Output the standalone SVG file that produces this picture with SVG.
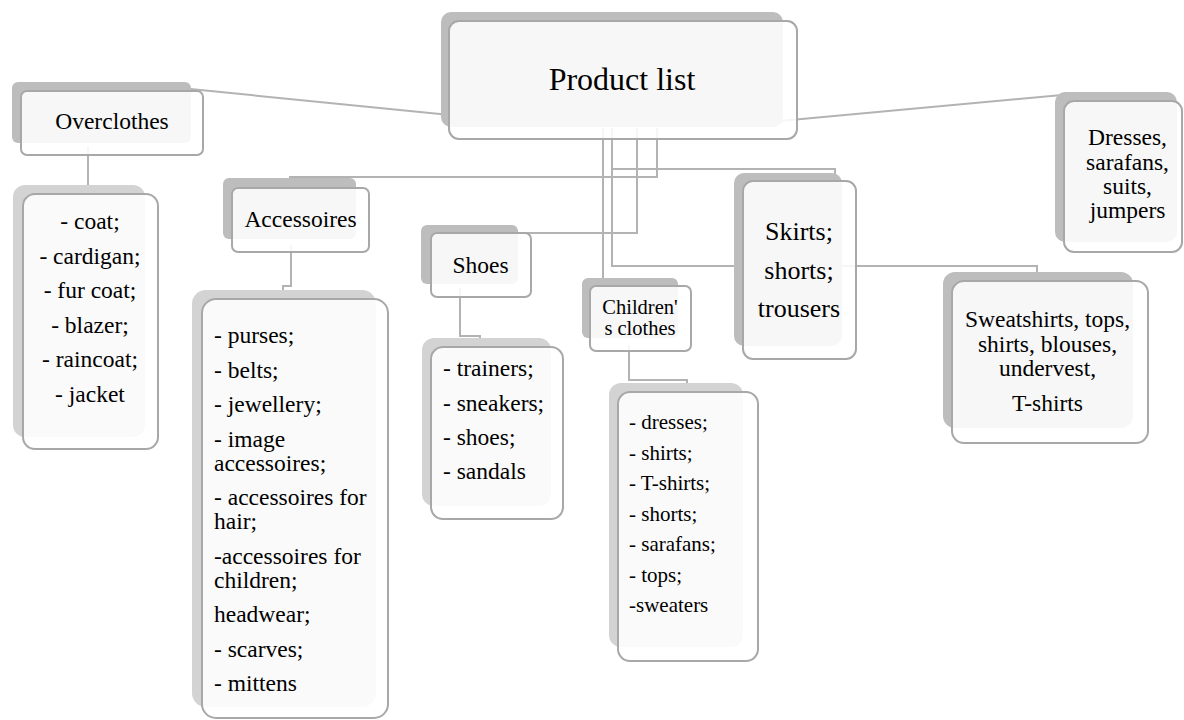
<svg xmlns="http://www.w3.org/2000/svg" width="1184" height="720" viewBox="0 0 1184 720" font-family="'Liberation Serif', 'Times New Roman', 'DejaVu Serif', serif">
<style>
.sh{fill:#bdbdbd}
.shl{fill:#d3d3d3}
.fr{fill:#ffffff;fill-opacity:0.88;stroke:#a8a8a8;stroke-width:2}
.cn{fill:none;stroke:#b3b3b3;stroke-width:2}
text{font-family:'Liberation Serif','Times New Roman','DejaVu Serif',serif;fill:#000}
.t23{font-size:23.5px}
.c{text-anchor:middle}
</style>
<rect width="1184" height="720" fill="#ffffff"/>
<g id="connectors">
<path class="cn" d="M460,116 L150,85"/>
<path class="cn" d="M780,121 L1062,95"/>
<path class="cn" d="M603,128 V280"/>
<path class="cn" d="M612,128 V169 H835 V176"/>
<path class="cn" d="M612,128 V266 H1037 V276"/>
<path class="cn" d="M637,128 V233 H468 V228"/>
<path class="cn" d="M657,128 V177 H290 V181"/>
<path class="cn" d="M88,146 V190"/>
<path class="cn" d="M291,245 V286 H283 V292"/>
<path class="cn" d="M460,288 V336 H480 V341"/>
<path class="cn" d="M629,345 V380 H687 V386"/>
</g>
<g id="product-list">
<rect class="sh" x="441" y="12" width="342" height="115" rx="10"/>
<rect class="fr" x="449" y="21" width="348" height="118" rx="10"/>
<text x="622" y="90" class="c" font-size="32">Product list</text>
</g>
<g id="overclothes">
<rect class="sh" x="12" y="82" width="179" height="61" rx="6"/>
<rect class="fr" x="21" y="91" width="182" height="64" rx="6"/>
<text x="112" y="129" class="c t23">Overclothes</text>
</g>
<g id="overclothes-list">
<rect class="shl" x="13" y="185" width="132" height="252" rx="12"/>
<rect class="fr" x="23" y="194" width="135" height="255" rx="12"/>
<text class="c t23"><tspan x="90" y="229">- coat;</tspan><tspan x="90" y="263.5">- cardigan;</tspan><tspan x="90" y="298">- fur coat;</tspan><tspan x="90" y="332.5">- blazer;</tspan><tspan x="90" y="367">- raincoat;</tspan><tspan x="90" y="401.5">- jacket</tspan></text>
</g>
<g id="accessoires">
<rect class="sh" x="223" y="178" width="133" height="61" rx="6"/>
<rect class="fr" x="232" y="188" width="137" height="64" rx="6"/>
<text x="300.5" y="227" class="c t23">Accessoires</text>
</g>
<g id="accessoires-list">
<rect class="shl" x="192" y="290" width="184" height="417" rx="14"/>
<rect class="fr" x="202" y="299" width="186" height="419" rx="14"/>
<text class="t23"><tspan x="214" y="343">- purses;</tspan><tspan x="214" y="377.5">- belts;</tspan><tspan x="214" y="412">- jewellery;</tspan><tspan x="214" y="446.5">- image</tspan><tspan x="214" y="470.5">accessoires;</tspan><tspan x="214" y="505">- accessoires for</tspan><tspan x="214" y="529">hair;</tspan><tspan x="214" y="563.5">-accessoires for</tspan><tspan x="214" y="587.5">children;</tspan><tspan x="214" y="622">headwear;</tspan><tspan x="214" y="656.5">- scarves;</tspan><tspan x="214" y="691">- mittens</tspan></text>
</g>
<g id="shoes">
<rect class="sh" x="421" y="225" width="97" height="59" rx="6"/>
<rect class="fr" x="431" y="233" width="100" height="64" rx="6"/>
<text x="480.5" y="273" class="c t23">Shoes</text>
</g>
<g id="shoes-list">
<rect class="shl" x="422" y="338" width="129" height="168" rx="12"/>
<rect class="fr" x="431" y="347" width="132" height="172" rx="12"/>
<text class="t23"><tspan x="443" y="376">- trainers;</tspan><tspan x="443" y="410.5">- sneakers;</tspan><tspan x="443" y="445">- shoes;</tspan><tspan x="443" y="479">- sandals</tspan></text>
</g>
<g id="childrens-clothes">
<rect class="sh" x="582" y="278" width="96" height="60" rx="6"/>
<rect class="fr" x="590" y="286" width="101" height="65" rx="6"/>
<text class="c" font-size="20.5"><tspan x="640" y="313.5">Children'</tspan><tspan x="640" y="335">s clothes</tspan></text>
</g>
<g id="childrens-list">
<rect class="shl" x="609" y="383" width="134" height="264" rx="12"/>
<rect class="fr" x="618" y="392" width="140" height="269" rx="12"/>
<text font-size="21"><tspan x="629" y="429">- dresses;</tspan><tspan x="629" y="459.5">- shirts;</tspan><tspan x="629" y="490">- T-shirts;</tspan><tspan x="629" y="520.5">- shorts;</tspan><tspan x="629" y="551">- sarafans;</tspan><tspan x="629" y="581.5">- tops;</tspan><tspan x="629" y="612">-sweaters</tspan></text>
</g>
<g id="skirts">
<rect class="sh" x="734" y="173" width="108" height="173" rx="10"/>
<rect class="fr" x="743" y="181" width="113" height="178" rx="10"/>
<text class="c" font-size="26"><tspan x="799" y="240">Skirts;</tspan><tspan x="799" y="278.5">shorts;</tspan><tspan x="799" y="317">trousers</tspan></text>
</g>
<g id="sweatshirts">
<rect class="sh" x="943" y="272" width="190" height="156" rx="12"/>
<rect class="fr" x="952" y="281" width="196" height="162" rx="12"/>
<text class="c t23"><tspan x="1047.5" y="327">Sweatshirts, tops,</tspan><tspan x="1047.5" y="351.5">shirts, blouses,</tspan><tspan x="1047.5" y="376">undervest,</tspan><tspan x="1047.5" y="411">T-shirts</tspan></text>
</g>
<g id="dresses">
<rect class="sh" x="1055" y="92" width="122" height="150" rx="10"/>
<rect class="fr" x="1064" y="101" width="118" height="151" rx="10"/>
<text class="c t23"><tspan x="1127.5" y="145">Dresses,</tspan><tspan x="1127.5" y="169.5">sarafans,</tspan><tspan x="1127.5" y="194">suits,</tspan><tspan x="1127.5" y="218">jumpers</tspan></text>
</g>
</svg>
